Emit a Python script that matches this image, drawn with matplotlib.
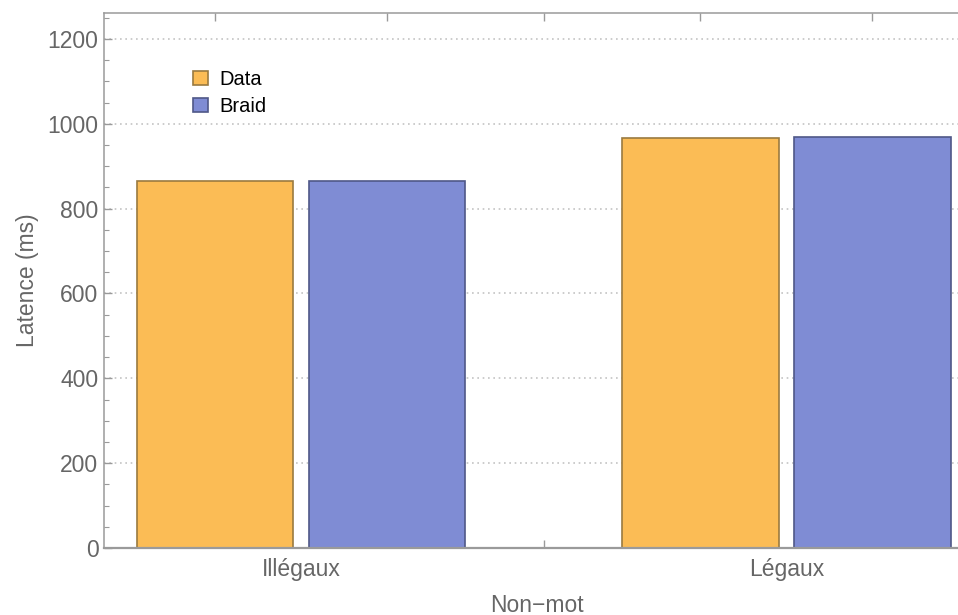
import matplotlib
matplotlib.use("Agg")
import matplotlib.pyplot as plt
from matplotlib.patches import Patch
from matplotlib.ticker import MultipleLocator, FixedLocator

categories = ["Illégaux", "Légaux"]
series_names = ["Data", "Braid"]
data_values = [865, 966]
braid_values = [865, 968]
y_ticks = [0, 200, 400, 600, 800, 1000, 1200]

plt.rcParams['font.family'] = ['Liberation Sans', 'DejaVu Sans']

fill_colors = ["#FBBC55", "#7F8CD4"]
edge_colors = ["#9A7A40", "#4F5888"]
text_gray = "#666666"
axis_gray = "#9a9a9a"

fig = plt.figure(figsize=(9.58, 6.15), dpi=100)
ax = fig.add_axes([104/958, 1-548/615, 1-104/958+0.001, (548-13)/615])

bar_w = 1.0
step = 1.1
group_gap = 2.0
pos_data = []
pos_braid = []
for i in range(len(categories)):
    base = i * (step + group_gap)
    pos_data.append(base)
    pos_braid.append(base + step)

ax.bar(pos_data, data_values, width=bar_w, color=fill_colors[0],
       edgecolor=edge_colors[0], linewidth=1.2, zorder=2)
ax.bar(pos_braid, braid_values, width=bar_w, color=fill_colors[1],
       edgecolor=edge_colors[1], linewidth=1.2, zorder=2)

px_per_unit = (873 - 215) / 4.2
ax.set_xlim((104 - 215) / px_per_unit, (958 - 215) / px_per_unit + 0.01)
ax.set_ylim(0, 1261)

# grid
for y in y_ticks[1:]:
    ax.axhline(y, color="#c4c4c4", linestyle=(0, (1, 2.2)), linewidth=1.2, zorder=1)

# y ticks
ax.yaxis.set_major_locator(FixedLocator(y_ticks))
ax.yaxis.set_minor_locator(MultipleLocator(50))
ax.set_yticklabels([str(v) for v in y_ticks])
ax.tick_params(axis='y', which='major', direction='in', length=6, width=1,
               color=axis_gray, labelsize=16.5, labelcolor=text_gray, pad=4)
ax.tick_params(axis='y', which='minor', direction='in', length=3.5, width=0.8,
               color=axis_gray)
ax.tick_params(axis='y', which='both', right=False)

# x ticks: labels at group centers, marks at bar centers + middle
group_centers = [(a + b) / 2 for a, b in zip(pos_data, pos_braid)]
ax.xaxis.set_major_locator(FixedLocator(group_centers))
ax.set_xticklabels(categories)
mid = (pos_braid[0] + pos_data[1]) / 2
ax.xaxis.set_minor_locator(FixedLocator(sorted(pos_data + pos_braid + [mid])))
ax.tick_params(axis='x', which='major', length=0, labelsize=16.5,
               labelcolor=text_gray, pad=7)
ax.tick_params(axis='x', which='minor', direction='in', length=6, width=1,
               color=axis_gray, top=True, bottom=True)

for s in ["left", "bottom", "top"]:
    ax.spines[s].set_color(axis_gray)
ax.spines["bottom"].set_linewidth(1.6)
ax.spines["left"].set_linewidth(1.1)
ax.spines["top"].set_linewidth(1.1)
ax.spines["right"].set_visible(False)

ax.set_ylabel("Latence (ms)", fontsize=16.5, color=text_gray, labelpad=6)
fig.text(537/958, 1-605/615, "Non−mot", fontsize=16.5, color=text_gray,
         ha="center", va="center")

handles = [Patch(facecolor=fill_colors[i], edgecolor=edge_colors[i], linewidth=1.2,
                 label=series_names[i]) for i in range(2)]
leg = ax.legend(handles=handles, loc="upper left",
                bbox_to_anchor=(193/958, 1-70/615), bbox_transform=fig.transFigure,
                frameon=False, fontsize=14.5, handlelength=0.75, handleheight=0.75,
                handletextpad=0.55, labelspacing=0.4, borderpad=0, borderaxespad=0)
for t in leg.get_texts():
    t.set_color("black")

fig.savefig("out.png", dpi=100)
